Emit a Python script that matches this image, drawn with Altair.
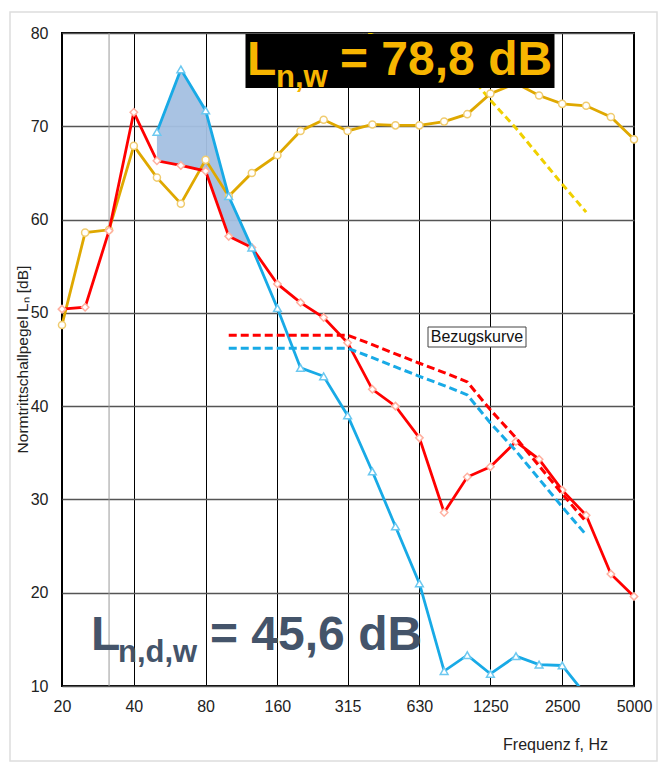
import altair as alt
import pandas as pd

# Third-octave band centre frequencies (Hz)
freqs = [20, 25, 31.5, 40, 50, 63, 80, 100, 125, 160, 200, 250, 315, 400, 500,
         630, 800, 1000, 1250, 1600, 2000, 2500, 3150, 4000, 5000]

# Gold curve (Ln,w = 78,8 dB)
gold_ln = [48.7, 58.6, 58.9, 67.9, 64.5, 61.7, 66.4, 62.5, 65.0, 66.9, 69.5, 70.7, 69.5,
           70.2, 70.1, 70.1, 70.5, 71.3, 73.5, 74.6, 73.3, 72.4, 72.2, 71.0, 68.6]

# Red curve
red_ln = [50.4, 50.6, 58.8, 71.5, 66.3, 65.8, 65.2, 58.2, 57.0, 53.1, 51.1, 49.5, 46.8,
          41.8, 40.0, 36.6, 28.6, 32.4, 33.5, 36.2, 34.3, 31.0, 28.3, 22.0, 19.6]

# Blue curve (50 Hz .. 3150 Hz)
blue_freqs = [50, 63, 80, 100, 125, 160, 200, 250, 315, 400, 500, 630, 800, 1000,
              1250, 1600, 2000, 2500, 3150]
blue_ln = [69.4, 76.1, 71.7, 62.5, 57.0, 50.5, 44.1, 43.2, 39.0, 33.0, 27.1, 21.0, 11.6,
           13.3, 11.3, 13.2, 12.3, 12.2, 9.0]

# Shifted reference curves (Bezugskurve)
ref_freqs = [100, 125, 160, 200, 250, 315, 400, 500, 630, 800, 1000, 1250, 1600, 2000, 2500, 3150]
red_ref = [47.6, 47.6, 47.6, 47.6, 47.6, 47.6, 46.6, 45.6, 44.6, 43.6, 42.6, 39.6, 36.6,
           33.6, 30.6, 27.6]
blue_ref = [46.2, 46.2, 46.2, 46.2, 46.2, 46.2, 45.2, 44.2, 43.2, 42.2, 41.2, 38.2, 35.2,
            32.2, 29.2, 26.2]
yellow_ref_freqs = [315, 400, 500, 630, 800, 1000, 1250, 1600, 2000, 2500, 3150]
yellow_ref = [80.8, 79.8, 78.8, 77.8, 76.8, 75.8, 72.8, 69.8, 66.8, 63.8, 60.8]

# Shaded difference area
fill_freqs = [50, 63, 80, 100, 125]
fill_upper = [69.4, 76.1, 71.7, 62.5, 57.0]
fill_lower = [66.3, 65.8, 65.2, 58.2, 57.0]

x_ticks = [20, 40, 80, 160, 315, 630, 1250, 2500, 5000]
y_ticks = [10, 20, 30, 40, 50, 60, 70, 80]
extra_grid = [31.5]

FONT = "Liberation Sans"

x_axis = alt.Axis(values=x_ticks, format="d", grid=True, gridColor="black", gridWidth=1,
                  ticks=False, domain=False, labelFontSize=16, labelPadding=12,
                  labelFlush=False, labelOverlap=False, labelColor="#222222", labelFont=FONT,
                  title="Frequenz f, Hz", titleFontSize=16, titleFontWeight="normal",
                  titleFont=FONT, titleColor="#222222", titleX=493, titleY=58,
                  titleAlign="center", titleBaseline="middle")
y_axis = alt.Axis(values=y_ticks, grid=True, gridColor="#555555", gridWidth=1.5,
                  ticks=False, domain=False, labelFontSize=16, labelPadding=14,
                  labelColor="#222222", labelFont=FONT,
                  title="Normtrittschallpegel Lₙ [dB]", titleFontSize=15.5,
                  titleFontWeight="normal", titleFont=FONT, titleColor="#222222",
                  titleX=-40, titleY=326, titleAngle=270, titleAlign="center",
                  titleBaseline="middle")

xs = alt.Scale(type="log", domain=[20, 5000], nice=False)
ys = alt.Scale(domain=[10, 80], nice=False, zero=False)


def X():
    return alt.X("f:Q", scale=xs, axis=x_axis)


def Y():
    return alt.Y("v:Q", scale=ys, axis=y_axis)


gold_df = pd.DataFrame({"f": freqs, "v": gold_ln})
red_df = pd.DataFrame({"f": freqs, "v": red_ln})
blue_df = pd.DataFrame({"f": blue_freqs, "v": blue_ln})
red_ref_df = pd.DataFrame({"f": ref_freqs, "v": red_ref})
blue_ref_df = pd.DataFrame({"f": ref_freqs, "v": blue_ref})
yel_ref_df = pd.DataFrame({"f": yellow_ref_freqs, "v": yellow_ref})
fill_df = pd.DataFrame({"f": fill_freqs, "v": fill_upper, "v2": fill_lower})
grid_df = pd.DataFrame({"f": extra_grid})
one = pd.DataFrame({"a": [0]})

frame = alt.Chart(one).mark_rect(fillOpacity=0, stroke="#dddddd", strokeWidth=1.5).encode(
    x=alt.value(-52), x2=alt.value(595), y=alt.value(-21), y2=alt.value(728))

grid31 = alt.Chart(grid_df).mark_rule(color="#9a9a9a", strokeWidth=1).encode(x=X())

area = alt.Chart(fill_df).mark_area(color="#a4c0e2", opacity=0.95).encode(
    x=X(), y=Y(), y2="v2:Q")

yel_ref_line = alt.Chart(yel_ref_df).mark_line(
    color="#f0d000", strokeWidth=3, strokeDash=[7, 4], clip=True).encode(x=X(), y=Y())

gold_line = alt.Chart(gold_df).mark_line(color="#dfa800", strokeWidth=2.8).encode(x=X(), y=Y())
gold_pts = alt.Chart(gold_df).mark_point(shape="circle", filled=True, fill="white",
                                         stroke="#f0cc70", strokeWidth=1.5, size=50,
                                         opacity=1).encode(x=X(), y=Y())

red_line = alt.Chart(red_df).mark_line(color="#ff0000", strokeWidth=2.8).encode(x=X(), y=Y())
red_pts = alt.Chart(red_df).mark_point(shape="diamond", filled=True, fill="white",
                                       stroke="#ffb0a0", strokeWidth=1.5, size=55,
                                       opacity=1).encode(x=X(), y=Y())

blue_line = alt.Chart(blue_df).mark_line(color="#18aae6", strokeWidth=2.8, clip=True).encode(
    x=X(), y=Y())
blue_pts = alt.Chart(blue_df).mark_point(shape="triangle-up", filled=True, fill="white",
                                         stroke="#6cc8f0", strokeWidth=1.5, size=60,
                                         opacity=1, clip=True).encode(x=X(), y=Y())

red_ref_line = alt.Chart(red_ref_df).mark_line(
    color="#ff0000", strokeWidth=3, strokeDash=[8, 4]).encode(x=X(), y=Y())
blue_ref_line = alt.Chart(blue_ref_df).mark_line(
    color="#18aae6", strokeWidth=3, strokeDash=[8, 4]).encode(x=X(), y=Y())

bez_box = alt.Chart(one).mark_rect(fill="white", stroke="#444444", strokeWidth=1).encode(
    x=alt.value(366), x2=alt.value(464), y=alt.value(294), y2=alt.value(314))
bez_txt = alt.Chart(one).mark_text(font=FONT, fontSize=16, color="#111111",
                                   align="center", baseline="middle").encode(
    x=alt.value(415), y=alt.value(304), text=alt.value("Bezugskurve"))

SLATE = "#44546a"
ld_L = alt.Chart(one).mark_text(font=FONT, fontSize=48, fontWeight="bold", color=SLATE,
                                align="left", baseline="alphabetic").encode(
    x=alt.value(29), y=alt.value(617), text=alt.value("L"))
ld_sub = alt.Chart(one).mark_text(font=FONT, fontSize=31, fontWeight="bold", color=SLATE,
                                  align="left", baseline="alphabetic").encode(
    x=alt.value(56), y=alt.value(629), text=alt.value("n,d,w"))
ld_val = alt.Chart(one).mark_text(font=FONT, fontSize=48, fontWeight="bold", color=SLATE,
                                  align="left", baseline="alphabetic").encode(
    x=alt.value(148), y=alt.value(617), text=alt.value("= 45,6 dB"))

GOLD = "#f7b500"
box = alt.Chart(one).mark_rect(fill="black").encode(
    x=alt.value(183.5), x2=alt.value(492.5), y=alt.value(1), y2=alt.value(55))
lw_L = alt.Chart(one).mark_text(font=FONT, fontSize=48, fontWeight="bold", color=GOLD,
                                align="left", baseline="alphabetic").encode(
    x=alt.value(185), y=alt.value(42), text=alt.value("L"))
lw_sub = alt.Chart(one).mark_text(font=FONT, fontSize=31, fontWeight="bold", color=GOLD,
                                  align="left", baseline="alphabetic").encode(
    x=alt.value(214), y=alt.value(54), text=alt.value("n,w"))
lw_val = alt.Chart(one).mark_text(font=FONT, fontSize=48, fontWeight="bold", color=GOLD,
                                  align="left", baseline="alphabetic").encode(
    x=alt.value(278), y=alt.value(42), text=alt.value("= 78,8 dB"))

chart = alt.layer(
    frame, grid31, area, yel_ref_line, gold_line, gold_pts, red_line, red_pts,
    blue_line, blue_pts, red_ref_line, blue_ref_line, bez_box, bez_txt,
    ld_L, ld_sub, ld_val, box, lw_L, lw_sub, lw_val
).properties(
    width=572, height=653,
    autosize=alt.AutoSizeParams(type="none"),
    padding={"left": 54, "top": 25, "right": 24, "bottom": 76},
    background="white",
).configure_view(stroke="black", strokeWidth=2)

chart.save("out.html", embed_options={"renderer": "svg", "actions": False})
